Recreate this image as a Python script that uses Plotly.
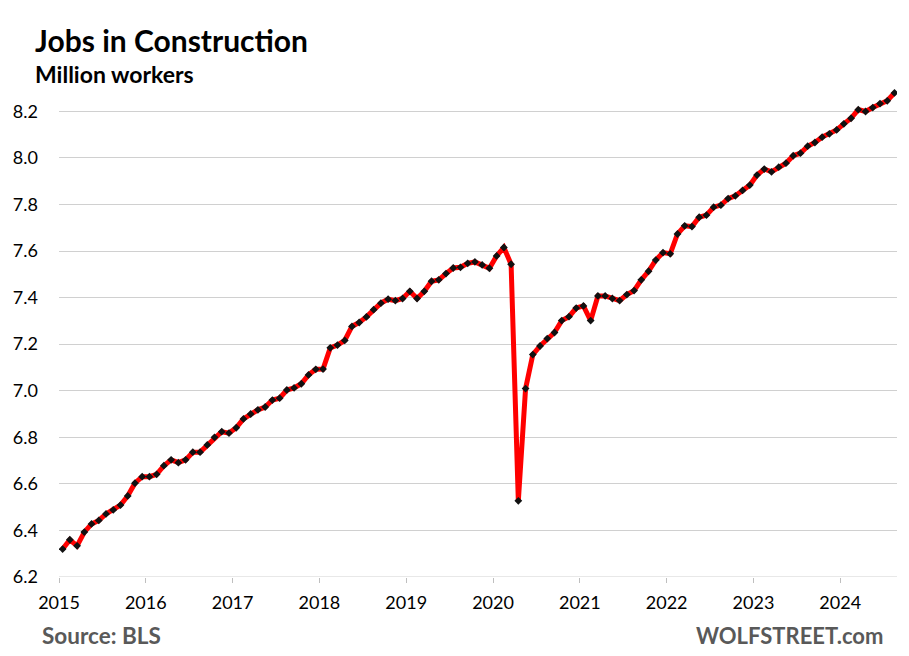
import plotly.graph_objects as go

# Monthly values, Jan 2015 .. Aug 2024 (million workers)
start_year = 2015
jobs = [
    6.320, 6.360, 6.334, 6.393, 6.428, 6.443, 6.471, 6.488, 6.509, 6.548, 6.603, 6.631,
    6.631, 6.641, 6.678, 6.703, 6.691, 6.703, 6.736, 6.736, 6.767, 6.800, 6.824, 6.818,
    6.841, 6.879, 6.900, 6.918, 6.930, 6.960, 6.968, 7.003, 7.012, 7.030, 7.068, 7.092,
    7.093, 7.184, 7.196, 7.216, 7.276, 7.293, 7.317, 7.348, 7.376, 7.393, 7.387, 7.396,
    7.427, 7.396, 7.427, 7.470, 7.476, 7.503, 7.527, 7.530, 7.547, 7.553, 7.540, 7.526,
    7.579, 7.615, 7.543, 6.527, 7.009, 7.155, 7.192, 7.224, 7.250, 7.301, 7.318, 7.355,
    7.364, 7.301, 7.407, 7.407, 7.396, 7.387, 7.413, 7.430, 7.476, 7.513, 7.561, 7.593,
    7.588, 7.673, 7.708, 7.705, 7.745, 7.754, 7.788, 7.797, 7.825, 7.837, 7.860, 7.883,
    7.926, 7.952, 7.940, 7.960, 7.977, 8.009, 8.020, 8.050, 8.066, 8.089, 8.103, 8.120,
    8.146, 8.170, 8.207, 8.199, 8.216, 8.233, 8.245, 8.279,
]
year_ticks = list(range(2015, 2025))
y_ticks = [6.2, 6.4, 6.6, 6.8, 7.0, 7.2, 7.4, 7.6, 7.8, 8.0, 8.2]

# month positions as fractional years, centered in each month
x_vals = [start_year + (i + 0.5) / 12 for i in range(len(jobs))]

FONT = "Lato, 'Open Sans', sans-serif"
PW = 838.0   # plot width in px
PH = 489.0   # plot height in px
OFF = 8      # page body margin

fig = go.Figure()
fig.add_trace(go.Scatter(
    x=x_vals, y=jobs, mode="lines",
    line=dict(color="#ff0000", width=5),
    hoverinfo="skip", showlegend=False,
))
fig.add_trace(go.Scatter(
    x=x_vals, y=jobs, mode="markers",
    marker=dict(color="#111111", size=6, symbol="diamond"),
    showlegend=False,
))

def px(xp):  # absolute page x -> paper x
    return (xp - 59) / PW

def py(yp):  # absolute page y -> paper y
    return (577 - yp) / PH

fig.update_layout(
    width=909 - OFF, height=656 - OFF,
    margin=dict(l=59 - OFF, r=12, t=88 - OFF, b=79),
    paper_bgcolor="white", plot_bgcolor="white",
    font=dict(family=FONT, size=18, color="#000000"),
    xaxis=dict(
        range=[2015, 2024.654],
        tickvals=year_ticks, ticktext=[str(y) for y in year_ticks],
        showgrid=False, zeroline=False,
        ticks="outside", ticklen=5, tickcolor="#bfbfbf", tickwidth=1,
        showline=False, ticklabelstandoff=4, automargin=False,
        tickfont=dict(size=18, family=FONT),
    ),
    yaxis=dict(
        range=[6.2, 8.3],
        tickvals=y_ticks, ticktext=[f"{v:.1f}" for v in y_ticks],
        showgrid=True, gridcolor="#d0d0d0", gridwidth=1,
        zeroline=False, showline=False, ticks="", ticklabelstandoff=20,
        automargin=False,
        tickfont=dict(size=18, family=FONT),
    ),
    annotations=[
        dict(text="<b>Jobs in Construction</b>", xref="paper", yref="paper",
             x=px(33), y=py(40), xanchor="left", yanchor="middle",
             showarrow=False, font=dict(size=30, family=FONT, color="#000000")),
        dict(text="<b>Million workers</b>", xref="paper", yref="paper",
             x=px(33), y=py(74), xanchor="left", yanchor="middle",
             showarrow=False, font=dict(size=23, family=FONT, color="#000000")),
        dict(text="<b>Source: BLS</b>", xref="paper", yref="paper",
             x=px(40), y=py(635), xanchor="left", yanchor="middle",
             showarrow=False, font=dict(size=22.5, family=FONT, color="#595959")),
        dict(text="<b>WOLFSTREET.com</b>", xref="paper", yref="paper",
             x=px(885), y=py(635), xanchor="right", yanchor="middle",
             showarrow=False, font=dict(size=22, family=FONT, color="#595959")),
    ],
)
# baseline gridline at 6.2
fig.add_shape(type="line", xref="paper", yref="y", x0=0, x1=1, y0=6.2, y1=6.2,
              line=dict(color="#d0d0d0", width=1), layer="below")

fig.write_html("out.html")
